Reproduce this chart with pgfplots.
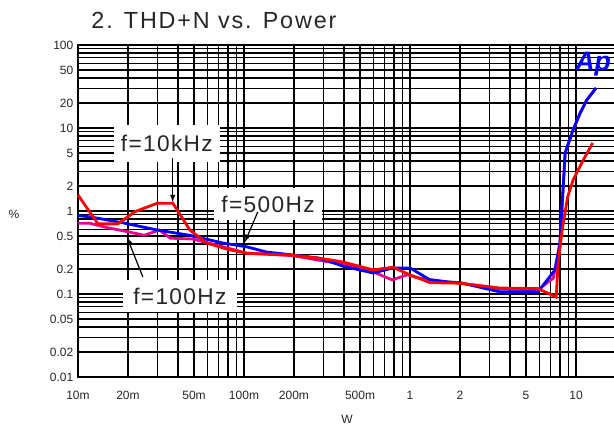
\documentclass[border=0pt]{standalone}
\usepackage{fontspec}
\setmainfont{Liberation Sans}
\newfontfamily\lblfont[LetterSpace=6]{Liberation Sans}
\newfontfamily\ttlfont[LetterSpace=8]{Liberation Sans}
\usepackage{pgfplots}
\pgfplotsset{compat=1.18}

\pgfplotstableread{
x y
0.01 0.71
0.0118 0.71
0.0150 0.63
0.0206 0.555
0.025 0.51
0.031 0.59
0.036 0.47
0.049 0.46
0.075 0.37
0.104 0.31
0.197 0.29
0.30 0.25
0.394 0.23
0.60 0.185
0.78 0.148
0.96 0.17
1.15 0.155
1.67 0.14
2.0 0.135
3.48 0.115
5.9 0.113
7.3 0.155
8.0 0.41
8.6 5.0
9.6 9.5
10.6 15.2
11.6 21.7
13.2 30.3
}\magentadata

\pgfplotstableread{
x y
0.01 0.88
0.0118 0.85
0.0187 0.72
0.030 0.59
0.047 0.51
0.075 0.41
0.104 0.37
0.137 0.32
0.197 0.295
0.285 0.27
0.394 0.217
0.60 0.179
0.79 0.206
1.0 0.206
1.32 0.148
1.67 0.14
2.0 0.137
3.48 0.106
5.9 0.106
7.47 0.195
8.0 0.41
8.6 5.0
9.6 9.5
10.6 15.2
11.6 21.7
13.2 30.3
}\bluedata

\pgfplotstableread{
x y
0.01 1.56
0.0132 0.70
0.0174 0.70
0.022 0.98
0.030 1.24
0.0373 1.24
0.0472 0.59
0.0598 0.41
0.0823 0.34
0.104 0.31
0.189 0.295
0.285 0.27
0.394 0.243
0.60 0.195
0.79 0.21
1.0 0.17
1.32 0.137
2.0 0.135
3.48 0.118
5.9 0.116
7.6 0.092
7.8 0.236
8.3 0.64
8.9 1.47
9.6 2.36
10.9 3.9
12.6 6.6
}\reddata

\begin{document}
\begin{tikzpicture}
\begin{axis}[
    scale only axis,
    width=411pt, height=249pt,
    xmode=log, ymode=log,
    xmin=0.01, xmax=20,
    ymin=0.01, ymax=100,
    xtick={0.01,0.02,0.05,0.1,0.2,0.5,1,2,5,10},
    xticklabels={10m,20m,50m,100m,200m,500m,1,2,5,10},
    ytick={0.01,0.02,0.05,0.1,0.2,0.5,1,2,5,10,20,50,100},
    yticklabels={0.01,0.02,0.05,0.1,0.2,0.5,1,2,5,10,20,50,100},
    minor xtick={0.03,0.04,0.06,0.07,0.08,0.09,0.3,0.4,0.6,0.7,0.8,0.9,3,4,6,7,8,9},
    minor ytick={0.03,0.04,0.06,0.07,0.08,0.09,0.3,0.4,0.6,0.7,0.8,0.9,3,4,6,7,8,9,30,40,60,70,80,90},
    grid=both,
    major grid style={black, line width=0.9pt},
    minor grid style={black, line width=0.9pt},
    major tick length=0pt, minor tick length=0pt,
    axis line style={black, line width=1pt},
    ticklabel style={font=\fontsize{9}{10}\selectfont, text=black!85},
    xticklabel style={yshift=-7pt},
    /pgf/number format/assume math mode=true,
    clip=false,
]
\addplot[magenta, line width=2.1pt] table[x=x, y=y] {\magentadata};
\addplot[blue, line width=2.1pt] table[x=x, y=y] {\bluedata};
\addplot[red, line width=2.1pt] table[x=x, y=y] {\reddata};

\coordinate (O) at (rel axis cs:0,0);

% label boxes
\node[fill=white, minimum width=79.5pt, minimum height=27.75pt, inner sep=0pt, text=black!85,
      font=\lblfont\fontsize{17}{18}\selectfont] at (axis cs:0.0343,6.5) {f=10kHz};
\node[fill=white, minimum width=81pt, minimum height=24pt, inner sep=0pt, text=black!85,
      font=\lblfont\fontsize{17}{18}\selectfont] at (axis cs:0.1396,1.21) {f=500Hz};
\node[fill=white, minimum width=85.5pt, minimum height=24pt, inner sep=0pt, text=black!85,
      font=\lblfont\fontsize{17}{18}\selectfont] at (axis cs:0.0411,0.0946) {f=100Hz};

% arrows
\draw[-latex, line width=0.9pt] (axis cs:0.0372,4.36) -- (axis cs:0.0372,1.28);
\draw[-latex, line width=0.9pt] (axis cs:0.121,0.973) -- (axis cs:0.1014,0.424);
\draw[-latex, line width=0.9pt] (axis cs:0.0246,0.16) -- (axis cs:0.0197,0.486);

% title, axis labels, logo
\node[font=\ttlfont\fontsize{17.5}{19}\selectfont, text=black!85] at (axis cs:0.0659,100) [yshift=18.75pt] {2. THD+N vs. Power};
\node[font=\fontsize{9}{10}\selectfont, text=black!85] at (axis cs:0.01,0.92) [xshift=-48pt] {\%};
\node[font=\fontsize{9}{10}\selectfont, text=black!85] at (axis cs:0.417,0.01) [yshift=-32pt] {W};
\node[anchor=east, inner sep=0pt, text=blue, font=\bfseries\itshape\fontsize{20}{22}\selectfont] at (axis cs:16.3,59) {Ap};
\end{axis}
\pgfresetboundingbox
\path[use as bounding box] ([shift={(-58.5pt,-38.25pt)}]O) rectangle ([shift={(402pt,282.75pt)}]O);
\end{tikzpicture}
\end{document}
